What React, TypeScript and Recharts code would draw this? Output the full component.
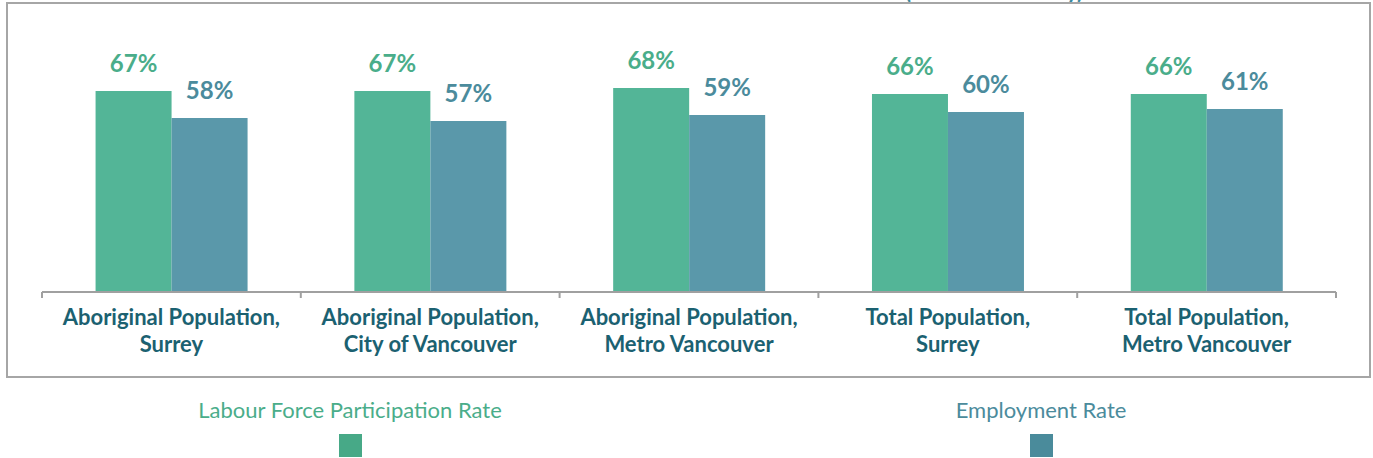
import * as React from "react";
import { BarChart, Bar, XAxis, YAxis, LabelList } from "recharts";

const categories = [
  "Aboriginal Population,\nSurrey",
  "Aboriginal Population,\nCity of Vancouver",
  "Aboriginal Population,\nMetro Vancouver",
  "Total Population,\nSurrey",
  "Total Population,\nMetro Vancouver",
];
const participationRate = [67, 67, 68, 66, 66];
const employmentRate = [58, 57, 59, 60, 61];

const SERIES = [
  { key: "participation", name: "Labour Force Participation Rate", bar: "#53b597", text: "#4aad8a", swatch: "#47a987" },
  { key: "employment", name: "Employment Rate", bar: "#5a98aa", text: "#4b8b9c", swatch: "#4a8b9b" },
];

const data = categories.map((name, i) => ({
  name,
  participation: participationRate[i],
  employment: employmentRate[i],
}));

const PLOT_LEFT = 42;
const PLOT_RIGHT = 1336;
const BAND = (PLOT_RIGHT - PLOT_LEFT) / categories.length;

const CategoryTick = (props: any) => {
  const { x, y, payload, index } = props;
  const lines = String(payload.value).split("\n");
  return (
    <g transform={`translate(${x},${y})`}>
      <line x1={-BAND / 2} y1={0} x2={-BAND / 2} y2={6} stroke="#a0a0a0" strokeWidth={2} />
      {index === categories.length - 1 && (
        <line x1={BAND / 2} y1={0} x2={BAND / 2} y2={6} stroke="#a0a0a0" strokeWidth={2} />
      )}
      {lines.map((l, i) => (
        <text
          key={i}
          x={0}
          y={33 + i * 27}
          textAnchor="middle"
          fill="#1b6171"
          fontSize={22}
          fontWeight={700}
          fontFamily="Lato"
        >
          {l}
        </text>
      ))}
    </g>
  );
};

export default function App() {
  return (
    <div style={{ position: "absolute", left: 0, top: 0, width: 1373, height: 458, background: "#fff", overflow: "hidden", fontFamily: "Lato" }}>
      <svg width={1373} height={10} style={{ position: "absolute", left: 0, top: 0 }}>
        <text x={905} y={-1} textLength={178} fill="#3a8ba0" fontSize={22} fontWeight={700} fontFamily="Lato">
          (2011 NHS Survey)
        </text>
      </svg>
      <div
        style={{
          position: "absolute",
          left: 6,
          top: 2,
          width: 1361,
          height: 372,
          border: "2px solid #a6a6a6",
        }}
      />
      <div style={{ position: "absolute", left: 0, top: 0 }}>
        <BarChart
          width={1373}
          height={380}
          data={data}
          margin={{ top: 52, right: 1373 - PLOT_RIGHT, bottom: 28, left: PLOT_LEFT }}
          barCategoryGap="20.7%"
          barGap={0}
        >
          <XAxis
            dataKey="name"
            height={60}
            axisLine={{ stroke: "#a0a0a0", strokeWidth: 2 }}
            tickLine={false}
            tickSize={0}
            tickMargin={0}
            interval={0}
            tick={<CategoryTick />}
          />
          <YAxis hide domain={[0, 80]} />
          {SERIES.map((s) => (
            <Bar key={s.key} dataKey={s.key} name={s.name} fill={s.bar} isAnimationActive={false}>
              <LabelList
                dataKey={s.key}
                position="top"
                offset={19}
                fill={s.text}
                fontSize={24}
                fontWeight={700}
                fontFamily="Lato"
                formatter={(v: any) => `${v}%`}
              />
            </Bar>
          ))}
        </BarChart>
      </div>
      {SERIES.map((s, i) => {
        const cx = i === 0 ? 350 : 1041;
        return (
          <div key={s.key}>
            <div
              style={{
                position: "absolute",
                left: cx - 250,
                width: 500,
                top: 396,
                textAlign: "center",
                color: s.text,
                fontSize: 22,
                lineHeight: "28px",
                fontFamily: "Lato",
              }}
            >
              {s.name}
            </div>
            <div
              style={{
                position: "absolute",
                left: cx - 11.5,
                top: 434,
                width: 23,
                height: 23,
                background: s.swatch,
              }}
            />
          </div>
        );
      })}
    </div>
  );
}
